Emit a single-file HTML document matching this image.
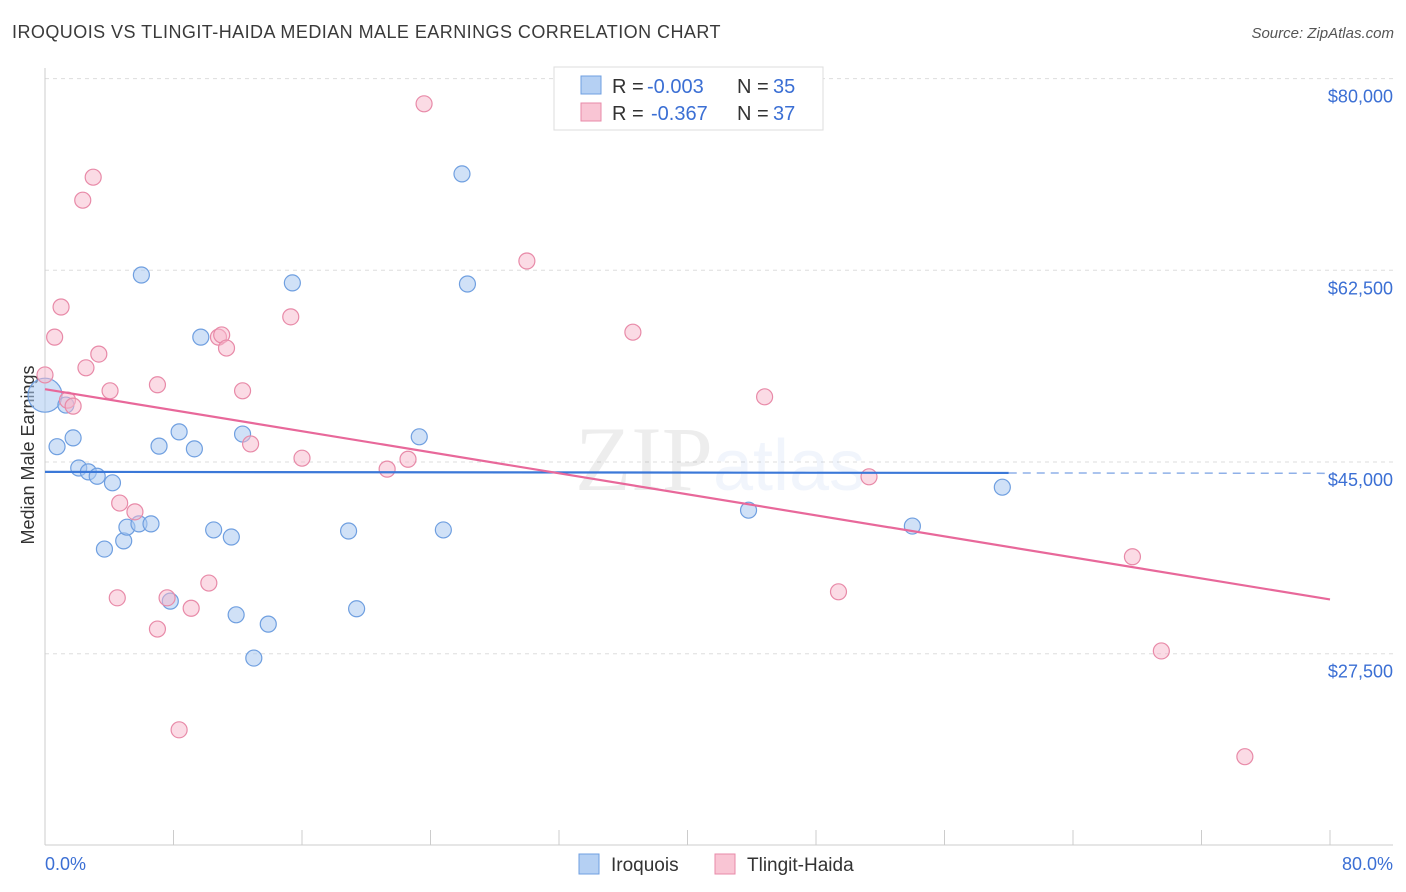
<!DOCTYPE html>
<html><head><meta charset="utf-8">
<style>
body{margin:0;background:#fff;font-family:"Liberation Sans",sans-serif;}
#c{position:relative;width:1406px;height:892px;}
.t{position:absolute;white-space:nowrap;}
</style></head><body>
<div id="c">
<div class="t" style="left:12px;top:22px;font-size:18px;letter-spacing:0.45px;color:#3a3a3a;">IROQUOIS VS TLINGIT-HAIDA MEDIAN MALE EARNINGS CORRELATION CHART</div>
<div class="t" style="right:12px;top:25px;font-size:15px;color:#555;font-style:italic;">Source: ZipAtlas.com</div>
<svg id="s" width="1406" height="892" style="position:absolute;left:0;top:0"></svg>
</div>
<script>
const yTicks=[27500,45000,62500,80000];
const yTickLabels=["$27,500","$45,000","$62,500","$80,000"];
const xTickLabels=["0.0%","80.0%"];
const iroX=[0.0,0.75,1.3,1.75,2.1,2.7,3.25,4.2,3.7,4.9,5.1,5.85,6.6,6.0,7.1,7.8,8.35,9.3,9.7,10.5,11.6,11.9,12.3,13.0,13.9,15.4,18.9,19.4,23.3,24.8,25.96,26.3,43.8,54.0,59.6];
const iroY=[51100,46400,50200,47200,44450,44100,43700,43100,37050,37800,39050,39350,39350,62070,46450,32300,47750,46200,56400,38800,38150,31050,47550,27100,30200,61350,38700,31600,47300,38800,71300,61250,40600,39150,42700];
const tliX=[0,0.6,1.0,1.4,1.75,2.35,2.55,3.0,3.35,4.05,4.5,4.65,5.6,7.0,7.0,7.6,8.35,9.1,10.2,10.8,11.0,11.3,12.3,12.8,15.3,16.0,21.3,22.6,23.6,30.0,36.6,44.8,49.4,51.3,67.7,69.5,74.7];
const tliY=[52950,56400,59150,50650,50100,68900,53600,71000,54850,51500,32600,41250,40450,29750,52050,32600,20550,31650,33950,56400,56600,55400,51500,46650,58250,45350,44350,45250,77700,63350,56850,50950,33150,43650,36350,27750,18100];
const iroTrend=[44100,44000]; // value at 0% and 60%
const tliTrend=[51650,32450]; // value at 0% and 80%
const X=p=>45+p*1285/80;
const Y=v=>462-(v-45000)*191.7/17500;
const s=document.getElementById('s');
const NS='http://www.w3.org/2000/svg';
function el(t,a,name){const e=document.createElementNS(NS,t);for(const k in a)e.setAttribute(k,a[k]);


s.appendChild(e);return e;}
function txt(x,y,str,fill,name,size){const t=el('text',{x:x,y:y,'font-size':size||20,fill:fill,'font-family':'Liberation Sans'},name);t.textContent=str;return t;}
yTicks.forEach((v,i)=>{
 el('line',{x1:45,y1:Y(v),x2:1393,y2:Y(v),stroke:'#ddd','stroke-dasharray':'4,4'},'grid-line');
 const t=el('text',{x:1393,y:Y(v)+24,'text-anchor':'end','font-size':18,fill:'#3b6fd4','font-family':'Liberation Sans'},'y-tick-label');t.textContent=yTickLabels[i];
});
el('line',{x1:45,y1:68,x2:45,y2:845,stroke:'#ccc'},'y-axis');
el('line',{x1:45,y1:845,x2:1393,y2:845,stroke:'#ccc'},'x-axis');
for(let i=1;i<=10;i++)el('line',{x1:X(i*8),y1:830,x2:X(i*8),y2:845,stroke:'#ccc'},'x-tick');
let t=el('text',{x:45,y:870,'font-size':18,fill:'#3b6fd4','font-family':'Liberation Sans'},'x-tick-label');t.textContent=xTickLabels[0];
t=el('text',{x:1393,y:870,'text-anchor':'end','font-size':18,fill:'#3b6fd4','font-family':'Liberation Sans'},'x-tick-label');t.textContent=xTickLabels[1];
t=el('text',{x:34,y:455,'text-anchor':'middle','font-size':18,fill:'#333','font-family':'Liberation Sans',transform:'rotate(-90 34 455)'},'y-axis-title');t.textContent='Median Male Earnings';
t=el('text',{x:720,y:490,'text-anchor':'middle','font-size':92,fill:'#000','fill-opacity':0.07,'font-family':'Liberation Serif'},'watermark');t.innerHTML='ZIP<tspan fill="#3b6fd4" font-family="Liberation Sans" font-size="72">atlas</tspan>';
iroX.forEach((x,i)=>el('circle',{cx:X(x),cy:Y(iroY[i]),r:i==0?17:8,fill:'#a9c8f0','fill-opacity':0.55,stroke:'#6f9fe0','stroke-width':1.2},'iroquois-point'));
tliX.forEach((x,i)=>el('circle',{cx:X(x),cy:Y(tliY[i]),r:8,fill:'#f7b8cb','fill-opacity':0.5,stroke:'#e88aa8','stroke-width':1.2},'tlingit-point'));
const sl=(iroTrend[1]-iroTrend[0])/60;
el('line',{x1:X(0),y1:Y(iroTrend[0]),x2:X(60),y2:Y(iroTrend[1]),stroke:'#3b78d8','stroke-width':2.2},'iroquois-trend');
el('line',{x1:X(60),y1:Y(iroTrend[1]),x2:X(80),y2:Y(iroTrend[0]+sl*80),stroke:'#8fb0e8','stroke-width':1.5,'stroke-dasharray':'8,6'},'iroquois-trend-ext');
el('line',{x1:X(0),y1:Y(tliTrend[0]),x2:X(80),y2:Y(tliTrend[1]),stroke:'#e8689a','stroke-width':2.2},'tlingit-trend');
// legend box
el('rect',{x:554,y:67,width:269,height:63,fill:'#fff',stroke:'#ddd'},'legend-box');
el('rect',{x:581,y:76,width:20,height:18,fill:'#b5d0f3',stroke:'#6f9fe0'},'legend-swatch-iroquois');
el('rect',{x:581,y:103,width:20,height:18,fill:'#f9c5d4',stroke:'#e88aa8'},'legend-swatch-tlingit');
txt(612,93,'R =','#333','legend-r-label');
txt(647,93,'-0.003','#3b6fd4','legend-r-iroquois');
txt(737,93,'N =','#333','legend-n-label');
txt(773,93,'35','#3b6fd4','legend-n-iroquois');
txt(612,120,'R =','#333','legend-r-label');
txt(651,120,'-0.367','#3b6fd4','legend-r-tlingit');
txt(737,120,'N =','#333','legend-n-label');
txt(773,120,'37','#3b6fd4','legend-n-tlingit');
// bottom legend
el('rect',{x:579,y:854,width:20,height:20,fill:'#b5d0f3',stroke:'#6f9fe0'},'bottom-legend-swatch-iroquois');
txt(611,871,'Iroquois','#333','bottom-legend-iroquois',19);
el('rect',{x:715,y:854,width:20,height:20,fill:'#f9c5d4',stroke:'#e88aa8'},'bottom-legend-swatch-tlingit');
txt(747,871,'Tlingit-Haida','#333','bottom-legend-tlingit',19);
</script>
</body></html>
